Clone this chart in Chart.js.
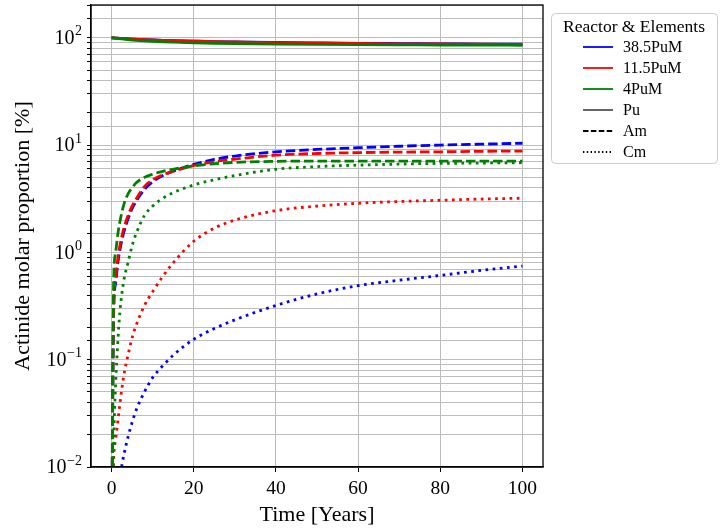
<!DOCTYPE html>
<html>
<head>
<meta charset="utf-8">
<script src="https://cdn.jsdelivr.net/npm/chart.js@4.4.0/dist/chart.umd.min.js"></script>
<style>
  html, body { margin: 0; padding: 0; background: #fff; }
  #wrap { width: 728px; height: 532px; }
</style>
</head>
<body>
<div id="wrap"><canvas id="grafico" width="728" height="532"></canvas></div>
<script>
// Dados (tempo em anos, proporção molar em %)
// 0.001 marca o ponto inicial (valor zero, fora da escala log)
const years = [0, 0.5, 1, 1.5, 2, 3, 4, 5, 6, 8, 10, 12.5, 15, 20, 25, 30, 40, 50, 60, 70, 80, 90, 100];

const pu385 = [100, 99.7, 99.4, 99.1, 98.8, 98.2, 97.7, 97.2, 96.8, 96.0, 95.3, 94.6, 94.0, 93.0, 92.1, 91.5, 90.3, 89.5, 88.8, 88.3, 87.8, 87.4, 87.0];
const am385 = [0.001, 0.26, 0.52, 0.78, 1.04, 1.55, 2.05, 2.55, 3.0, 3.85, 4.55, 5.2, 5.7, 6.6, 7.35, 7.9, 8.66, 9.1, 9.45, 9.75, 10.0, 10.2, 10.4];
const cm385 = [0.001, 0.002, 0.004, 0.006, 0.008, 0.013, 0.019, 0.026, 0.034, 0.05, 0.068, 0.088, 0.11, 0.155, 0.195, 0.235, 0.32, 0.41, 0.49, 0.55, 0.61, 0.68, 0.745];

const pu115 = [100, 99.7, 99.4, 99.1, 98.8, 98.3, 97.8, 97.3, 96.9, 96.1, 95.4, 94.7, 94.1, 93.0, 92.0, 91.3, 90.0, 89.1, 88.4, 87.9, 87.5, 87.1, 86.8];
const am115 = [0.001, 0.29, 0.58, 0.86, 1.14, 1.68, 2.2, 2.7, 3.15, 4.1, 4.75, 5.3, 5.7, 6.45, 7.0, 7.4, 8.05, 8.35, 8.5, 8.6, 8.65, 8.75, 8.8];
const cm115 = [0.001, 0.011, 0.018, 0.026, 0.038, 0.072, 0.11, 0.16, 0.21, 0.32, 0.43, 0.6, 0.8, 1.27, 1.68, 2.0, 2.45, 2.7, 2.87, 2.98, 3.06, 3.14, 3.2];

const pu4 = [100, 99.5, 99.0, 98.5, 98.0, 97.0, 96.1, 95.3, 94.6, 93.4, 92.5, 91.6, 90.9, 89.7, 88.8, 88.1, 87.2, 86.6, 86.2, 85.9, 85.6, 85.4, 85.2];
const am4 = [0.001, 0.5, 1.0, 1.45, 1.9, 2.8, 3.5, 4.0, 4.45, 5.0, 5.35, 5.7, 5.95, 6.4, 6.7, 6.9, 7.05, 7.1, 7.1, 7.1, 7.1, 7.1, 7.1];
const cm4 = [0.001, 0.016, 0.06, 0.14, 0.27, 0.55, 0.8, 1.15, 1.5, 2.2, 2.7, 3.2, 3.6, 4.25, 4.75, 5.2, 5.95, 6.3, 6.5, 6.65, 6.75, 6.8, 6.85];

const reactorNames = ['38.5PuM', '11.5PuM', '4PuM'];
const reactorColors = ['#0000ff', '#ff0000', '#008000'];
const elementNames = ['Pu', 'Am', 'Cm'];
const seriesByReactor = [
    [pu385, am385, cm385],
    [pu115, am115, cm115],
    [pu4, am4, cm4]
];
const xTicks = [0, 20, 40, 60, 80, 100];

// estilos de linha
const lineDashes = [[], [9.5, 4], [2.7, 4.5]];
const legendDashes = [[], [5.5, 2.4], [1.4, 2.4]];
const legendElementColors = ['#555555', '#000000', '#000000'];

const serif = '"Liberation Serif", "Times New Roman", serif';

function pontos(vals){
    return years.map((t, i) => ({x: t, y: vals[i]}));
}

const datasets = [];
seriesByReactor.forEach((serie, r) => {
    serie.forEach((vals, e) => {
        datasets.push({
            label: reactorNames[r] + ' ' + elementNames[e],
            data: pontos(vals),
            borderColor: reactorColors[r],
            backgroundColor: reactorColors[r],
            borderWidth: 2.8,
            borderDash: lineDashes[e],
            pointRadius: 0,
            cubicInterpolationMode: 'monotone',
            fill: false,
            order: 100 - datasets.length
        });
    });
});

// rótulos 10^n do eixo y com expoente em sobrescrito
const rotulosLog = {
    id: 'rotulosLog',
    afterDraw(chart){
        const s = chart.scales.y;
        const ctx = chart.ctx;
        const right = s.right - 9;
        ctx.save();
        ctx.fillStyle = '#000';
        ctx.textAlign = 'right';
        ctx.textBaseline = 'middle';
        s.ticks.forEach(t => {
            const e = Math.log10(t.value);
            if (Math.abs(e - Math.round(e)) > 1e-6 || t.value > 150) return;
            const y = s.getPixelForValue(t.value);
            const exp = String(Math.round(e)).replace('-', '\u2212');
            ctx.font = '14px ' + serif;
            const w = ctx.measureText(exp).width;
            ctx.fillText(exp, right, y - 6);
            ctx.font = '20px ' + serif;
            ctx.fillText('10', right - w - 0.5, y + 1);
        });
        ctx.restore();
    }
};

// moldura do gráfico + legenda
const molduraLegenda = {
    id: 'molduraLegenda',
    afterDraw(chart){
        const ctx = chart.ctx;
        const a = chart.chartArea;
        ctx.save();
        ctx.strokeStyle = '#000';
        ctx.lineWidth = 1.3;
        ctx.strokeRect(a.left, a.top, a.right - a.left, a.bottom - a.top);

        const x0 = a.right + 8, y0 = 13, w = 166, h = 150;
        ctx.beginPath();
        ctx.roundRect(x0 + 0.5, y0 + 0.5, w, h, 4);
        ctx.fillStyle = 'rgba(255,255,255,0.85)';
        ctx.fill();
        ctx.strokeStyle = '#cccccc';
        ctx.lineWidth = 1;
        ctx.stroke();

        ctx.fillStyle = '#000';
        ctx.textBaseline = 'middle';
        ctx.font = '17.5px ' + serif;
        ctx.textAlign = 'center';
        ctx.fillText('Reactor & Elements', x0 + w / 2, y0 + 14);

        const itens = [];
        reactorNames.forEach((n, i) => itens.push({t: n, c: reactorColors[i], d: []}));
        elementNames.forEach((n, i) => itens.push({t: n, c: legendElementColors[i], d: legendDashes[i]}));
        ctx.font = '16px ' + serif;
        ctx.textAlign = 'left';
        itens.forEach((it, i) => {
            const y = y0 + 34 + i * 21;
            ctx.beginPath();
            ctx.setLineDash(it.d);
            ctx.strokeStyle = it.c;
            ctx.lineWidth = 1.8;
            ctx.moveTo(x0 + 32, y);
            ctx.lineTo(x0 + 62, y);
            ctx.stroke();
            ctx.setLineDash([]);
            ctx.fillText(it.t, x0 + 72, y + 1);
        });
        ctx.restore();
    }
};

new Chart(document.getElementById('grafico'), {
    type: 'line',
    data: {datasets},
    options: {
        responsive: false,
        animation: false,
        devicePixelRatio: 1,
        layout: {padding: {left: 0, top: 5, right: 185, bottom: 0}},
        plugins: {legend: {display: false}, tooltip: {enabled: false}},
        scales: {
            x: {
                type: 'linear', min: -5, max: 105,
                afterBuildTicks(s){ s.ticks = xTicks.map(v => ({value: v})); },
                afterFit(s){ s.height = 65; },
                ticks: {font: {family: serif, size: 19.5}, color: '#000', padding: 5, maxRotation: 0},
                grid: {color: '#bdbdbd', lineWidth: 1, tickColor: '#000', tickLength: 5},
                border: {color: '#000', width: 1.3},
                title: {display: true, text: 'Time [Years]', font: {family: serif, size: 22}, color: '#000', padding: {top: 0, bottom: 4}}
            },
            y: {
                type: 'logarithmic', min: 0.01, max: 202,
                afterFit(s){ s.width = 91; },
                ticks: {font: {family: serif, size: 1}, color: '#000', padding: 3, autoSkip: false, callback: () => ''},
                grid: {color: '#bdbdbd', lineWidth: 1, tickColor: '#000', tickLength: 4},
                border: {color: '#000', width: 1.3},
                title: {display: true, text: 'Actinide molar proportion [%]', font: {family: serif, size: 22}, color: '#000', padding: {top: 10, bottom: 0}}
            }
        }
    },
    plugins: [rotulosLog, molduraLegenda]
});
</script>
</body>
</html>
